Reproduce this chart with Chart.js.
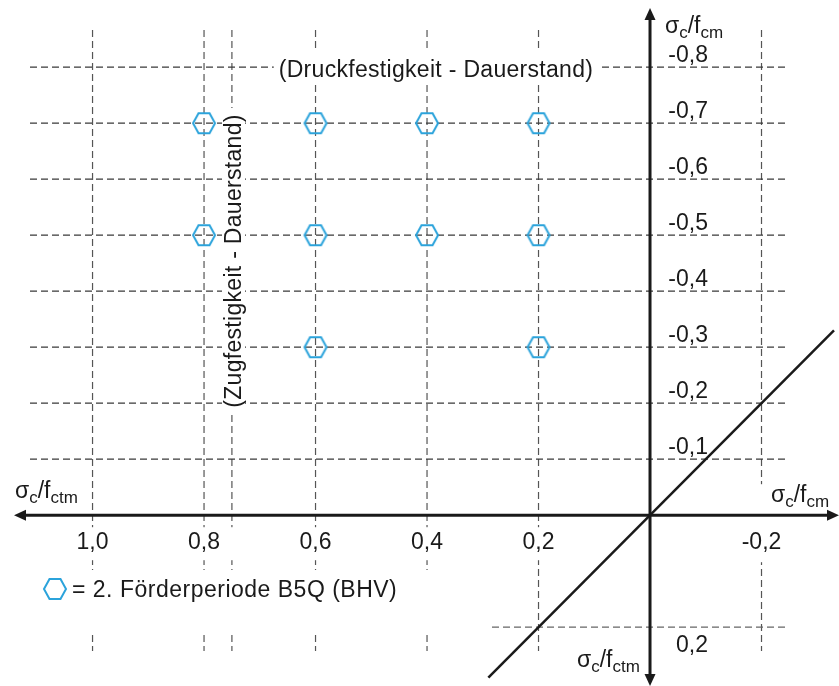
<!DOCTYPE html>
<html>
<head>
<meta charset="utf-8">
<script src="https://cdn.jsdelivr.net/npm/chart.js@4.4.0/dist/chart.umd.min.js"></script>
<style>
  html, body { margin: 0; padding: 0; background: #fff; }
  canvas { display: block; }
</style>
</head>
<body>
<canvas id="chart" width="839" height="686"></canvas>
<script>
// values
const xTicks = [1.0, 0.8, 0.6, 0.4, 0.2, -0.2];
const yTicks = [-0.8, -0.7, -0.6, -0.5, -0.4, -0.3, -0.2, -0.1, 0.2];
const xGrid = [1.0, 0.8, 0.75, 0.6, 0.4, 0.2, -0.2];
const yGrid = [-0.8, -0.7, -0.6, -0.5, -0.4, -0.3, -0.2, -0.1];
const testX = [0.8, 0.6, 0.4, 0.2, 0.8, 0.6, 0.4, 0.2, 0.6, 0.2];
const testY = [-0.7, -0.7, -0.7, -0.7, -0.5, -0.5, -0.5, -0.5, -0.3, -0.3];
const diagX = [0.29, -0.33];
const diagY = [0.29, -0.33];
const legendLabel = '= 2. Förderperiode B5Q (BHV)';
const drucklabel = '(Druckfestigkeit - Dauerstand)';
const zuglabel = '(Zugfestigkeit - Dauerstand)';

const FONT = '"Liberation Sans", Arial, Helvetica, sans-serif';
const BLUE = '#2ba3db';
const INK = '#1a1a1a';

// hexagon marker
function hexagon(w, h, color) {
  const c = document.createElement('canvas');
  c.width = w + 4; c.height = h + 4;
  const g = c.getContext('2d');
  const cx = c.width / 2, cy = c.height / 2;
  g.strokeStyle = color;
  g.lineWidth = 2;
  g.beginPath();
  g.moveTo(cx - w / 2, cy);
  g.lineTo(cx - w / 4, cy - h / 2);
  g.lineTo(cx + w / 4, cy - h / 2);
  g.lineTo(cx + w / 2, cy);
  g.lineTo(cx + w / 4, cy + h / 2);
  g.lineTo(cx - w / 4, cy + h / 2);
  g.closePath();
  g.stroke();
  return c;
}
const hexImg = hexagon(22, 20, BLUE);

function fmt(v) {
  return v.toFixed(1).replace('.', ',');
}

function seg(ctx, x1, y1, x2, y2) {
  ctx.beginPath();
  ctx.moveTo(x1, y1);
  ctx.lineTo(x2, y2);
  ctx.stroke();
}

function arrow(ctx, x, y, dx, dy) {
  // tip at (x, y), pointing in direction (dx, dy)
  const len = 12, half = 5.5;
  ctx.beginPath();
  ctx.moveTo(x, y);
  ctx.lineTo(x - dx * len - dy * half, y - dy * len + dx * half);
  ctx.lineTo(x - dx * len + dy * half, y - dy * len - dx * half);
  ctx.closePath();
  ctx.fill();
}

// sigma_c / f_xx with subscripts
function ratioLabel(ctx, x, y, sub) {
  const parts = [['σ', 23, 0], ['c', 17, 5], ['/f', 23, 0], [sub, 17, 5]];
  ctx.textAlign = 'left';
  ctx.textBaseline = 'alphabetic';
  parts.forEach(([t, size, dy]) => {
    ctx.font = size + 'px ' + FONT;
    ctx.fillText(t, x, y + dy);
    x += ctx.measureText(t).width;
  });
}

const sketch = {
  id: 'sketch',
  beforeDatasetsDraw(chart) {
    const { ctx, scales: { x, y } } = chart;
    const x0 = x.getPixelForValue(0), y0 = y.getPixelForValue(0);
    ctx.save();
    ctx.lineWidth = 1.2;
    ctx.setLineDash([7, 4]);
    ctx.strokeStyle = '#555';
    xGrid.forEach(v => {
      const px = x.getPixelForValue(v);
      seg(ctx, px, 30, px, 651);
    });
    ctx.strokeStyle = '#3a3a3a';
    yGrid.forEach(v => {
      const py = y.getPixelForValue(v);
      seg(ctx, 30, py, 788, py);
    });
    const p2 = y.getPixelForValue(0.2);
    ctx.strokeStyle = '#666';
    seg(ctx, 492, p2, 788, p2);
    ctx.setLineDash([]);

    // white boxes behind the texts
    ctx.fillStyle = '#fff';
    ctx.fillRect(20, y0 + 12, x0 - 30, 33);
    ctx.fillRect(745, y0 - 31, 90, 78);
    ctx.fillRect(35, 570, 445, 63);
    ctx.fillRect(222, 108, 23, 305);
    ctx.font = '23px ' + FONT;
    ctx.letterSpacing = '0.3px';
    const dw = ctx.measureText(drucklabel).width;
    ctx.fillRect(436 - dw / 2 - 5, 52, dw + 10, 32);
    ctx.restore();
  },
  afterDatasetsDraw(chart) {
    const { ctx, scales: { x, y } } = chart;
    const x0 = x.getPixelForValue(0), y0 = y.getPixelForValue(0);
    ctx.save();
    // axes
    ctx.strokeStyle = INK;
    ctx.fillStyle = INK;
    ctx.lineWidth = 3;
    seg(ctx, 22, y0, 832, y0);
    seg(ctx, x0, 20, x0, 678);
    arrow(ctx, 14, y0, -1, 0);
    arrow(ctx, 839, y0, 1, 0);
    arrow(ctx, x0, 8, 0, -1);
    arrow(ctx, x0, 686, 0, 1);

    // tick labels
    ctx.font = '23px ' + FONT;
    ctx.textBaseline = 'alphabetic';
    ctx.textAlign = 'center';
    xTicks.forEach(v => ctx.fillText(fmt(v), x.getPixelForValue(v), y0 + 34));
    ctx.textAlign = 'right';
    yTicks.forEach(v => {
      const py = y.getPixelForValue(v);
      ctx.fillText(fmt(v), 708, v > 0 ? py + 25 : py - 5);
    });

    // boundary texts
    ctx.letterSpacing = '0.3px';
    ctx.textAlign = 'center';
    ctx.fillText(drucklabel, 436, 77);
    ctx.save();
    ctx.translate(241, 261);
    ctx.rotate(-Math.PI / 2);
    ctx.fillText(zuglabel, 0, 0);
    ctx.restore();
    ctx.letterSpacing = '0px';

    // axis titles
    ratioLabel(ctx, 665, 33, 'cm');
    ratioLabel(ctx, 15, 498, 'ctm');
    ratioLabel(ctx, 771, 502, 'cm');
    ratioLabel(ctx, 577, 667, 'ctm');

    // legend
    ctx.drawImage(hexImg, 55 - hexImg.width / 2, 589 - hexImg.height / 2);
    ctx.font = '23px ' + FONT;
    ctx.letterSpacing = '0.5px';
    ctx.textAlign = 'left';
    ctx.fillText(legendLabel, 72, 597);
    ctx.restore();
  }
};

new Chart(document.getElementById('chart'), {
  type: 'scatter',
  data: {
    datasets: [
      {
        label: 'Grenzlinie',
        data: diagX.map((v, i) => ({ x: v, y: diagY[i] })),
        showLine: true,
        borderColor: INK,
        borderWidth: 2.5,
        pointRadius: 0,
        clip: false
      },
      {
        label: legendLabel,
        data: testX.map((v, i) => ({ x: v, y: testY[i] })),
        pointStyle: hexImg,
        pointRadius: 12,
        clip: false
      }
    ]
  },
  options: {
    responsive: false,
    animation: false,
    layout: { padding: 0, autoPadding: false },
    plugins: { legend: { display: false }, tooltip: { enabled: false } },
    scales: {
      x: { type: 'linear', reverse: true, min: -0.339, max: 1.166, display: false },
      y: { type: 'linear', reverse: true, min: -0.92, max: 0.305, display: false }
    }
  },
  plugins: [sketch]
});
</script>
</body>
</html>
